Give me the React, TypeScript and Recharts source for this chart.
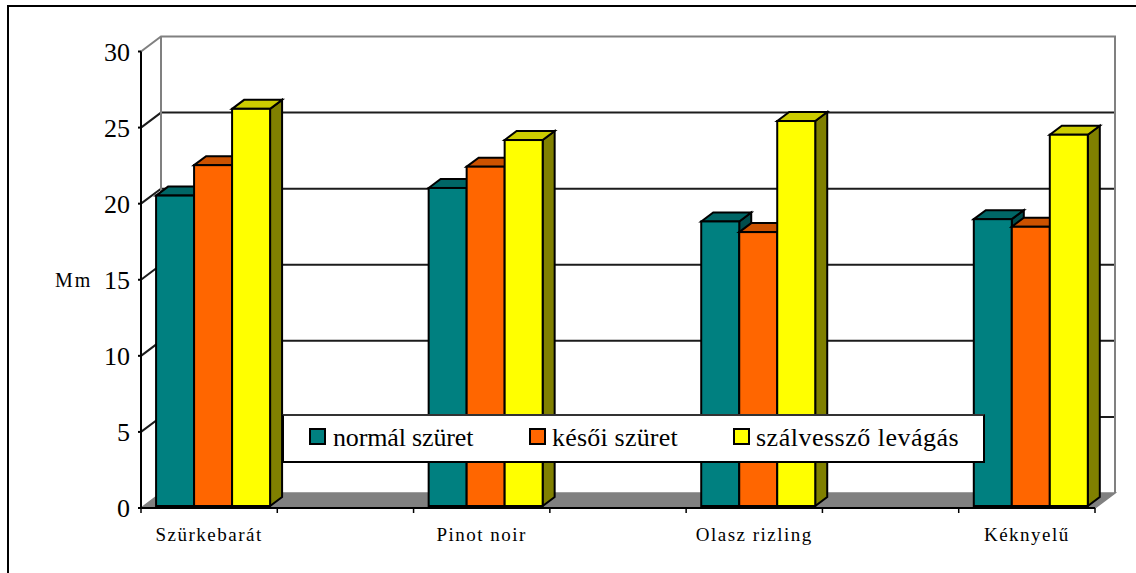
import React from "react";
import { Bar, BarChart, CartesianGrid, Legend, XAxis, YAxis } from "recharts";

const categories = ["Szürkebarát", "", "Pinot noir", "", "Olasz rizling", "", "Kéknyelű"];
const normalHarvest = [20.4, null, 20.9, null, 18.7, null, 18.85];
const lateHarvest = [22.4, null, 22.3, null, 18.0, null, 18.35];
const shootCutting = [26.1, null, 24.05, null, 25.3, null, 24.4];
const yTicks = [0, 5, 10, 15, 20, 25, 30];

const seriesNames = ["normál szüret", "késői szüret", "szálvessző levágás"];
const seriesFront = ["#008080", "#FF6600", "#FFFF00"];
const seriesTop = ["#006666", "#CC5200", "#CCCC00"];
const seriesSide = ["#004D4D", "#993D00", "#808000"];

const rows = categories.map((name, i) => ({
  name,
  normal: normalHarvest[i],
  late: lateHarvest[i],
  cutting: shootCutting[i],
}));

const SERIF = '"Liberation Serif", "Times New Roman", serif';
const WIDTH = 1136;
const HEIGHT = 573;
const MARGIN = { top: 51.5, right: 41, bottom: 35, left: 41 };
const Y_AXIS_WIDTH = 100;
const X_AXIS_HEIGHT = 30;
const PLOT_TOP = MARGIN.top;
const PLOT_BOTTOM = HEIGHT - MARGIN.bottom - X_AXIS_HEIGHT;

// Receding depth of the box that surrounds the plot
const WALL_DX = 20;
const WALL_DY = 15;
// Depth of each column and its inset from the front of the floor
const BAR_DX = 12;
const BAR_DY = 9;
const BAR_SHIFT_X = 3.5;
const BAR_SHIFT_Y = 2;

const WALL_GRAY = "#808080";
const GRID_DARK = "#1c1c1c";

// One grid line: the wall line and the diagonal along the left wall.
// The lowest line also paints the floor; the highest paints the wall outline.
function WallLine(props: any) {
  const { x1, x2, y1 } = props;
  const bx1 = x1 + WALL_DX;
  const bx2 = x2 + WALL_DX;
  const by = y1 - WALL_DY;
  const isFloor = Math.abs(y1 - PLOT_BOTTOM) < 0.5;
  const isTop = Math.abs(y1 - PLOT_TOP) < 0.5;
  if (isFloor) {
    return (
      <polygon
        points={`${x1},${y1} ${bx1},${by} ${bx2},${by} ${x2},${y1}`}
        fill={WALL_GRAY}
        stroke={WALL_GRAY}
        strokeWidth={1.5}
      />
    );
  }
  if (isTop) {
    const floorBack = PLOT_BOTTOM - WALL_DY;
    return (
      <g fill="none" stroke={WALL_GRAY} strokeWidth={2}>
        <path d={`M${x1},${y1} L${bx1},${by} L${bx2},${by} L${bx2},${floorBack}`} />
        <path d={`M${bx1},${by} L${bx1},${floorBack}`} />
      </g>
    );
  }
  return (
    <g fill="none" stroke={GRID_DARK} strokeWidth={2}>
      <path d={`M${x1},${y1} L${bx1},${by} L${bx2},${by}`} />
    </g>
  );
}

// Column with a front face, a top face and a right side face
function makeColumn(seriesIndex: number) {
  return function Column(props: any) {
    const { x, y, width, height } = props;
    if (y == null || !height) return <g />;
    const left = x + BAR_SHIFT_X;
    const right = left + width;
    const top = y - BAR_SHIFT_Y;
    const bottom = top + height;
    return (
      <g stroke="#000" strokeWidth={2} strokeLinejoin="miter">
        <polygon
          points={`${right},${top} ${right + BAR_DX},${top - BAR_DY} ${right + BAR_DX},${bottom - BAR_DY} ${right},${bottom}`}
          fill={seriesSide[seriesIndex]}
        />
        <polygon
          points={`${left},${top} ${left + BAR_DX},${top - BAR_DY} ${right + BAR_DX},${top - BAR_DY} ${right},${top}`}
          fill={seriesTop[seriesIndex]}
        />
        <rect x={left} y={top} width={width} height={height} fill={seriesFront[seriesIndex]} />
      </g>
    );
  };
}

// Category label, with tick marks on the boundaries of its band
function CategoryTick(props: any) {
  const { x, payload, width, visibleTicksCount, index } = props;
  const step = width / visibleTicksCount;
  const axisY = PLOT_BOTTOM;
  return (
    <g>
      {index === 0 && (
        <line x1={x - step / 2} x2={x - step / 2} y1={axisY} y2={axisY + 5} stroke="#000" strokeWidth={1.5} />
      )}
      <line x1={x + step / 2} x2={x + step / 2} y1={axisY} y2={axisY + 5} stroke="#000" strokeWidth={1.5} />
      <text
        x={x}
        y={axisY + 33}
        textAnchor="middle"
        fontFamily={SERIF}
        fontSize={19}
        letterSpacing={1.5}
        fill="#000"
      >
        {payload.value}
      </text>
    </g>
  );
}

const legendSlots = [
  { swatch: 27, text: 51, spacing: -0.15 },
  { swatch: 247, text: 270, spacing: 0.2 },
  { swatch: 451, text: 474, spacing: 0.5 },
];

function BoxedLegend() {
  return (
    <div
      style={{
        position: "relative",
        width: 699,
        height: 45,
        boxSizing: "content-box",
        border: "2px solid #000",
        borderTopColor: "#333",
        background: "#fff",
        fontFamily: SERIF,
        fontSize: 26,
        color: "#000",
      }}
    >
      {seriesNames.map((name, i) => (
        <React.Fragment key={name}>
          <span
            style={{
              position: "absolute",
              left: legendSlots[i].swatch - 2,
              top: 12,
              width: 13,
              height: 13,
              border: "2px solid #000",
              background: seriesFront[i],
            }}
          />
          <span
            style={{
              position: "absolute",
              left: legendSlots[i].text - 2,
              top: 7,
              whiteSpace: "nowrap",
              letterSpacing: legendSlots[i].spacing,
            }}
          >
            {name}
          </span>
        </React.Fragment>
      ))}
    </div>
  );
}

export default function App() {
  return (
    <div style={{ position: "absolute", left: 0, top: 0, width: WIDTH, height: HEIGHT, overflow: "hidden", background: "#fff" }}>
      <div
        style={{
          position: "absolute",
          left: 7,
          top: 5,
          right: 0,
          bottom: 0,
          borderLeft: "2px solid #000",
          borderTop: "2px solid #000",
        }}
      />
      <BarChart
        width={WIDTH}
        height={HEIGHT}
        data={rows}
        margin={MARGIN}
        barGap={0}
        barCategoryGap="8.5%"
        style={{ position: "absolute", left: 0, top: 0 }}
      >
        <CartesianGrid horizontal={WallLine as any} vertical={false} />
        <XAxis
          dataKey="name"
          interval={0}
          height={X_AXIS_HEIGHT}
          tickLine={false}
          axisLine={{ stroke: "#000", strokeWidth: 2 }}
          tick={CategoryTick as any}
        />
        <YAxis
          domain={[0, 30]}
          ticks={yTicks}
          width={Y_AXIS_WIDTH}
          tickSize={3}
          tickMargin={8}
          axisLine={{ stroke: "#000", strokeWidth: 2 }}
          tickLine={{ stroke: "#000", strokeWidth: 2 }}
          tick={{ fontFamily: SERIF, fontSize: 26, fill: "#000" }}
          label={{
            value: "Mm",
            position: "insideLeft",
            offset: 14,
            style: { fontFamily: SERIF, fontSize: 20, letterSpacing: 2, fill: "#000", textAnchor: "start" },
          }}
        />
        <Bar dataKey="normal" name={seriesNames[0]} fill={seriesFront[0]} isAnimationActive={false} shape={makeColumn(0)} />
        <Bar dataKey="late" name={seriesNames[1]} fill={seriesFront[1]} isAnimationActive={false} shape={makeColumn(1)} />
        <Bar dataKey="cutting" name={seriesNames[2]} fill={seriesFront[2]} isAnimationActive={false} shape={makeColumn(2)} />
        <Legend
          layout="horizontal"
          align="center"
          verticalAlign="middle"
          content={<BoxedLegend />}
          wrapperStyle={{ position: "absolute", left: 282, top: 414, width: 703, height: 49, bottom: "auto", right: "auto" }}
        />
      </BarChart>
    </div>
  );
}
